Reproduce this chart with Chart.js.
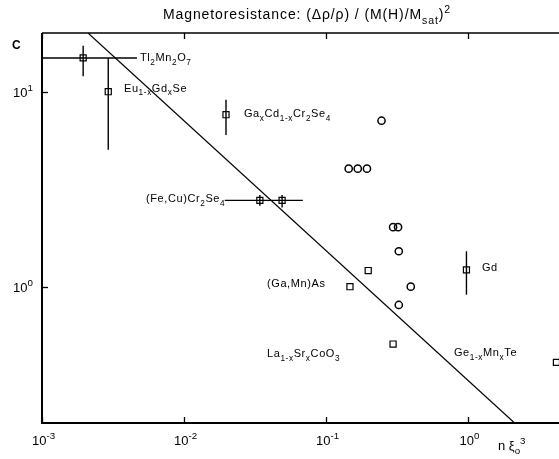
<!DOCTYPE html>
<html><head><meta charset="utf-8">
<script src="https://cdn.jsdelivr.net/npm/chart.js@4.4.0/dist/chart.umd.min.js"></script>
<style>html,body{margin:0;padding:0;background:#fff;overflow:hidden}</style>
</head><body>
<canvas id="c" width="559" height="459"></canvas>
<script>
// ---- data ----
const squaresX = [0.00195, 0.00293, 0.0198, 0.0343, 0.0492, 0.148, 0.199, 0.298, 0.98, 4.22];
const squaresY = [14.9, 10.0, 7.62, 2.77, 2.77, 1.0, 1.21, 0.508, 1.22, 0.409];
const circlesX = [0.247, 0.145, 0.168, 0.195, 0.298, 0.323, 0.327, 0.397, 0.327];
const circlesY = [7.1, 4.03, 4.03, 4.03, 2.02, 2.02, 1.52, 1.0, 0.806];
// theory line C ~ n^(-2/3)
const lineX = [0.00211, 2.14];
const lineY = [20, 0.2];
// vertical error bars: x, low, high
const vErrX = [0.00195, 0.00293, 0.0198, 0.0343, 0.0492, 0.98];
const vErrLow = [12.0, 5.04, 6.0, 2.6, 2.55, 0.91];
const vErrHigh = [17.2, 14.9, 9.1, 2.95, 2.95, 1.52];
// horizontal error bars: y, low, high
const hErrY = [14.9, 2.77];
const hErrLow = [0.0008, 0.0194];
const hErrHigh = [0.00467, 0.0689];
// material labels
const labelText = ["Tl_{2}Mn_{2}O_{7}", "Eu_{1-x}Gd_{x}Se", "Ga_{x}Cd_{1-x}Cr_{2}Se_{4}", "(Fe,Cu)Cr_{2}Se_{4}",
  "(Ga,Mn)As", "La_{1-x}Sr_{x}CoO_{3}", "Ge_{1-x}Mn_{x}Te", "Gd"];
const labelX = [0.0049, 0.00378, 0.0265, 0.0054, 0.0385, 0.0385, 0.80, 1.26];
const labelY = [15.0, 10.5, 7.74, 2.84, 1.05, 0.455, 0.46, 1.256];
// tick labels
const xTickVals = [0.001, 0.01, 0.1, 1];
const xTickLabels = ["10^{-3}", "10^{-2}", "10^{-1}", "10^{0}"];
const yTickVals = [1, 10];
const yTickLabels = ["10^{0}", "10^{1}"];
const titleText = "Magnetoresistance: (Δρ/ρ) / (M(H)/M_{sat})^{2}";
const xAxisTitle = "n ξ_{o}^{3}";
const yAxisTitle = "C";

const FONT = '"Liberation Sans", Arial, sans-serif';

function parseRich(str) {
  const out = [];
  const re = /(_\{[^}]*\}|\^\{[^}]*\}|[^_^]+)/g;
  let m;
  while ((m = re.exec(str)) !== null) {
    const t = m[0];
    if (t[0] === '_') out.push({t: t.slice(2, -1), k: 'sub'});
    else if (t[0] === '^') out.push({t: t.slice(2, -1), k: 'sup'});
    else out.push({t, k: 'n'});
  }
  return out;
}
function setFont(ctx, weight, fs, sp) {
  ctx.font = weight + ' ' + fs + 'px ' + FONT;
  ctx.letterSpacing = sp + 'px';
}
function richWidth(ctx, segs, size, weight, sp) {
  let w = 0;
  for (const s of segs) {
    const fs = s.k === 'n' ? size : size * 0.75;
    setFont(ctx, weight, fs, sp);
    w += ctx.measureText(s.t).width;
  }
  return w;
}
function drawRich(ctx, str, x, y, size, align, weight, sp) {
  weight = weight || 'normal';
  sp = sp || 0;
  const segs = parseRich(str);
  const w = richWidth(ctx, segs, size, weight, sp);
  let cx = x;
  if (align === 'center') cx = x - w / 2;
  else if (align === 'right') cx = x - w;
  const base = y + size * 0.36;
  ctx.textBaseline = 'alphabetic';
  ctx.textAlign = 'left';
  ctx.fillStyle = '#000';
  for (const s of segs) {
    let fs = size, by = base;
    if (s.k === 'sub') { fs = size * 0.75; by = base + size * 0.32; }
    if (s.k === 'sup') { fs = size * 0.75; by = base - size * 0.45; }
    setFont(ctx, weight, fs, sp);
    ctx.fillText(s.t, cx, by);
    cx += ctx.measureText(s.t).width;
  }
  ctx.letterSpacing = '0px';
}

const deco = {
  id: 'deco',
  beforeDatasetsDraw(chart) {
    const {ctx, chartArea: a, scales: {x, y}} = chart;
    ctx.save();
    ctx.beginPath();
    ctx.rect(a.left, a.top, a.right - a.left, a.bottom - a.top);
    ctx.clip();
    ctx.strokeStyle = '#000';
    ctx.lineWidth = 1.4;
    for (let i = 0; i < vErrX.length; i++) {
      const px = x.getPixelForValue(vErrX[i]);
      ctx.beginPath();
      ctx.moveTo(px, y.getPixelForValue(vErrLow[i]));
      ctx.lineTo(px, y.getPixelForValue(vErrHigh[i]));
      ctx.stroke();
    }
    for (let i = 0; i < hErrY.length; i++) {
      const py = y.getPixelForValue(hErrY[i]);
      ctx.beginPath();
      ctx.moveTo(x.getPixelForValue(hErrLow[i]), py);
      ctx.lineTo(x.getPixelForValue(hErrHigh[i]), py);
      ctx.stroke();
    }
    ctx.restore();
  },
  afterDraw(chart) {
    const {ctx, chartArea: a, scales: {x, y}} = chart;
    ctx.save();
    ctx.strokeStyle = '#000';
    // axes frame
    ctx.lineWidth = 2;
    ctx.beginPath();
    ctx.moveTo(a.left, a.top); ctx.lineTo(a.left, a.bottom); ctx.lineTo(a.right, a.bottom);
    ctx.stroke();
    ctx.lineWidth = 1.3;
    ctx.beginPath();
    ctx.moveTo(a.left, a.top); ctx.lineTo(a.right, a.top);
    ctx.stroke();
    // ticks
    ctx.lineWidth = 1.3;
    xTickVals.forEach((v, i) => {
      const px = Math.round(x.getPixelForValue(v)) + 0.5;
      ctx.beginPath();
      ctx.moveTo(px, a.bottom); ctx.lineTo(px, a.bottom - 6);
      ctx.moveTo(px, a.top); ctx.lineTo(px, a.top + 6);
      ctx.stroke();
      drawRich(ctx, xTickLabels[i], px + 1, a.bottom + 17, 13, 'center');
    });
    yTickVals.forEach((v, i) => {
      const py = Math.round(y.getPixelForValue(v)) + 0.5;
      ctx.beginPath();
      ctx.moveTo(a.left, py); ctx.lineTo(a.left + 6, py);
      ctx.stroke();
      drawRich(ctx, yTickLabels[i], a.left - 9, py, 13, 'right');
    });
    // labels
    labelText.forEach((t, i) => {
      drawRich(ctx, t, x.getPixelForValue(labelX[i]), y.getPixelForValue(labelY[i]), 11, 'left', 'normal', 0.6);
    });
    drawRich(ctx, titleText, 307, 14, 14, 'center', 'normal', 0.9);
    drawRich(ctx, xAxisTitle, 498, 445, 13, 'left');
    drawRich(ctx, yAxisTitle, 12, 45, 12, 'left', 'bold');
    ctx.restore();
  }
};

new Chart(document.getElementById('c'), {
  type: 'scatter',
  data: {
    datasets: [
      {
        data: lineX.map((v, i) => ({x: v, y: lineY[i]})),
        showLine: true, pointRadius: 0, borderColor: '#000', borderWidth: 1.2, fill: false
      },
      {
        data: squaresX.map((v, i) => ({x: v, y: squaresY[i]})),
        pointStyle: 'rect', pointRadius: 4.3, borderColor: '#000', borderWidth: 1.2,
        backgroundColor: 'rgba(0,0,0,0)'
      },
      {
        data: circlesX.map((v, i) => ({x: v, y: circlesY[i]})),
        pointStyle: 'circle', pointRadius: 3.6, borderColor: '#000', borderWidth: 1.5,
        backgroundColor: 'rgba(0,0,0,0)'
      }
    ]
  },
  options: {
    responsive: false,
    animation: false,
    layout: {autoPadding: false, padding: {left: 42, top: 33, right: 0, bottom: 36}},
    plugins: {legend: {display: false}, tooltip: {enabled: false}, title: {display: false}},
    scales: {
      x: {type: 'logarithmic', min: 0.001, max: 4.4, display: false},
      y: {type: 'logarithmic', min: 0.2, max: 20, display: false}
    }
  },
  plugins: [deco]
});
</script>
</body></html>
